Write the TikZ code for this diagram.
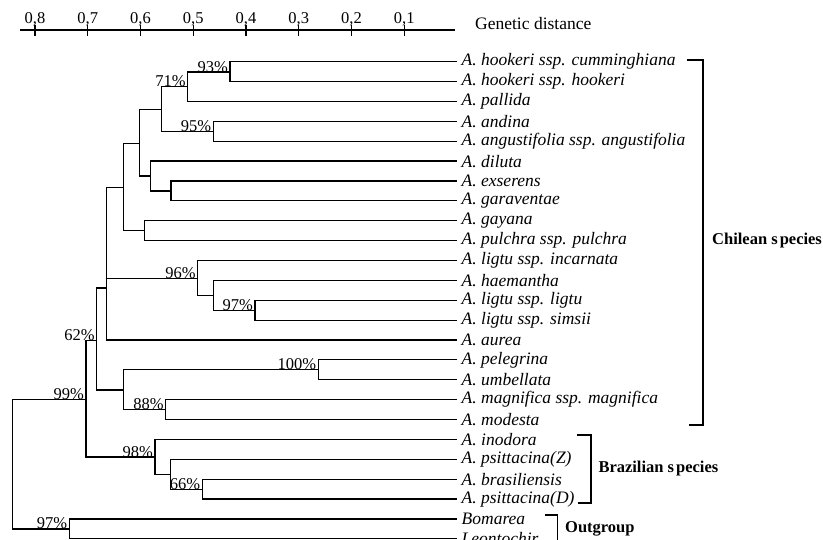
\documentclass[tikz,border=0pt]{standalone}
\usepackage{fontspec}
\setmainfont{Liberation Serif}
\begin{document}
\begin{tikzpicture}[x=1pt,y=-1pt,
  branch/.style={draw, line width=1.2pt, line cap=rect},
  species/.style={anchor=west, inner sep=0pt, font=\fontsize{17.5}{19}\selectfont\itshape},
  boot/.style={anchor=south east, inner sep=0pt, font=\fontsize{16.5}{18}\selectfont},
  grouplab/.style={anchor=west, inner sep=0pt, font=\fontsize{16.5}{18}\selectfont\bfseries},
  ticklab/.style={anchor=base, inner sep=0pt, font=\fontsize{16.5}{18}\selectfont},
  bracket/.style={draw, line width=1.2pt}]
\useasboundingbox (0,0) rectangle (823,540);

% distance scale
\coordinate (axL) at (20,30);
\coordinate (axR) at (455,30);
\draw[line width=1.2pt] (axL) -- (axR);
\foreach \d/\lab in {8/{0,8},7/{0,7},6/{0,6},5/{0,5},4/{0,4},3/{0,3},2/{0,2},1/{0,1}} {
  \coordinate (tk\d) at (457-52.75*\d,30);
  \draw[line width=1.2pt] ([yshift=5pt]tk\d) -- ([yshift=-6pt]tk\d);
  \node[ticklab] (tl\d) at (457-52.75*\d,24) {\lab};
}
\node[anchor=base west, inner sep=0pt, font=\fontsize{17.5}{19}\selectfont] (gd) at (475,29.5) {Genetic distance};

% leaf tips and species names
\foreach \i/\name in {
  0/{A. hookeri ssp. cumminghiana},
  1/{A. hookeri ssp. hookeri},
  2/{A. pallida},
  3/{A. andina},
  4/{A. angustifolia ssp. angustifolia},
  5/{A. diluta},
  6/{A. exserens},
  7/{A. garaventae},
  8/{A. gayana},
  9/{A. pulchra ssp. pulchra},
  10/{A. ligtu ssp. incarnata},
  11/{A. haemantha},
  12/{A. ligtu ssp. ligtu},
  13/{A. ligtu ssp. simsii},
  14/{A. aurea},
  15/{A. pelegrina},
  16/{A. umbellata},
  17/{A. magnifica ssp. magnifica},
  18/{A. modesta},
  19/{A. inodora},
  20/{A. psittacina(Z)},
  21/{A. brasiliensis},
  22/{A. psittacina(D)},
  23/{Bomarea},
  24/{Leontochir}} {
  \coordinate (t\i) at (456.5,61.7+19.88*\i);
  \node[species] (s\i) at (461.5,61.7+19.88*\i) {\name};
}

% internal nodes (x = depth, y = attachment height)
\coordinate (a93)  at (230,72);
\coordinate (a71)  at (187.7,86.7);
\coordinate (a95)  at (213.3,131.3);
\coordinate (aA)   at (161.7,109.3);
\coordinate (aC)   at (171,191);
\coordinate (aD)   at (150.3,176);
\coordinate (aB)   at (139.3,143.3);
\coordinate (aE)   at (144.3,230.7);
\coordinate (aF)   at (123.5,187.3);
\coordinate (aG)   at (255,310.2);
\coordinate (aH)   at (213.3,295.5);
\coordinate (aI)   at (197.7,278.3);
\coordinate (aJ)   at (106.7,288);
\coordinate (a100) at (318.3,369.9);
\coordinate (a88)  at (165.7,409.6);
\coordinate (aL)   at (123.3,390);
\coordinate (aK)   at (96.7,340.3);
\coordinate (a2D)  at (202.3,489.1);
\coordinate (a66)  at (170.7,474.1);
\coordinate (a98)  at (155,457);
\coordinate (aM)   at (86,399.3);
\coordinate (aO)   at (69.3,528.9);
\coordinate (root) at (12.3,464);

% branches
\draw[branch] (a93) |- (t0);  \draw[branch] (a93) |- (t1);
\draw[branch] (a71) |- (a93); \draw[branch] (a71) |- (t2);
\draw[branch] (a95) |- (t3);  \draw[branch] (a95) |- (t4);
\draw[branch] (aA) |- (a71);  \draw[branch] (aA) |- (a95);
\draw[branch] (aC) |- (t6);   \draw[branch] (aC) |- (t7);
\draw[branch] (aD) |- (t5);   \draw[branch] (aD) |- (aC);
\draw[branch] (aB) |- (aA);   \draw[branch] (aB) |- (aD);
\draw[branch] (aE) |- (t8);   \draw[branch] (aE) |- (t9);
\draw[branch] (aF) |- (aB);   \draw[branch] (aF) |- (aE);
\draw[branch] (aG) |- (t12);  \draw[branch] (aG) |- (t13);
\draw[branch] (aH) |- (t11);  \draw[branch] (aH) |- (aG);
\draw[branch] (aI) |- (t10);  \draw[branch] (aI) |- (aH);
\draw[branch] (aJ) |- (aF);   \draw[branch] (aJ) |- (aI);  \draw[branch] (aJ) |- (t14);
\draw[branch] (a100) |- (t15); \draw[branch] (a100) |- (t16);
\draw[branch] (a88) |- (t17); \draw[branch] (a88) |- (t18);
\draw[branch] (aL) |- (a100); \draw[branch] (aL) |- (a88);
\draw[branch] (aK) |- (aJ);   \draw[branch] (aK) |- (aL);
\draw[branch] (a2D) |- (t21); \draw[branch] (a2D) |- (t22);
\draw[branch] (a66) |- (t20); \draw[branch] (a66) |- (a2D);
\draw[branch] (a98) |- (t19); \draw[branch] (a98) |- (a66);
\draw[branch] (aM) |- (aK);   \draw[branch] (aM) |- (a98);
\draw[branch] (aO) |- (t23);  \draw[branch] (aO) |- (t24);
\draw[branch] (root) |- (aM); \draw[branch] (root) |- (aO);

% bootstrap support
\foreach \c/\v in {a93/93,a71/71,a95/95,aI/96,aG/97,aK/62,aM/99,a100/100,a88/88,a98/98,a2D/66,aO/97} {
  \node[boot] (bs\c) at ([xshift=-2pt,yshift=-0.5pt]\c) {\v\%};
}

% group brackets
\coordinate (chT) at (686.7,60);  \coordinate (chB) at (689,425);
\coordinate (brT) at (576.7,435); \coordinate (brB) at (578,503);
\coordinate (ogT) at (545,515);   \coordinate (ogB) at (545,548);
\draw[bracket] (chT) -| (703,425) -- (chB);
\draw[bracket] (brT) -| (591,503) -- (brB);
\draw[bracket] (ogT) -| (557.3,548);
\node[grouplab] (chl) at (712,240.7) {Chilean s\kern2pt pecies};
\node[grouplab] (brl) at (598.3,468.5) {Brazilian s\kern2pt pecies};
\node[grouplab] (ogl) at (565,529) {Outgroup};
\end{tikzpicture}
\end{document}
